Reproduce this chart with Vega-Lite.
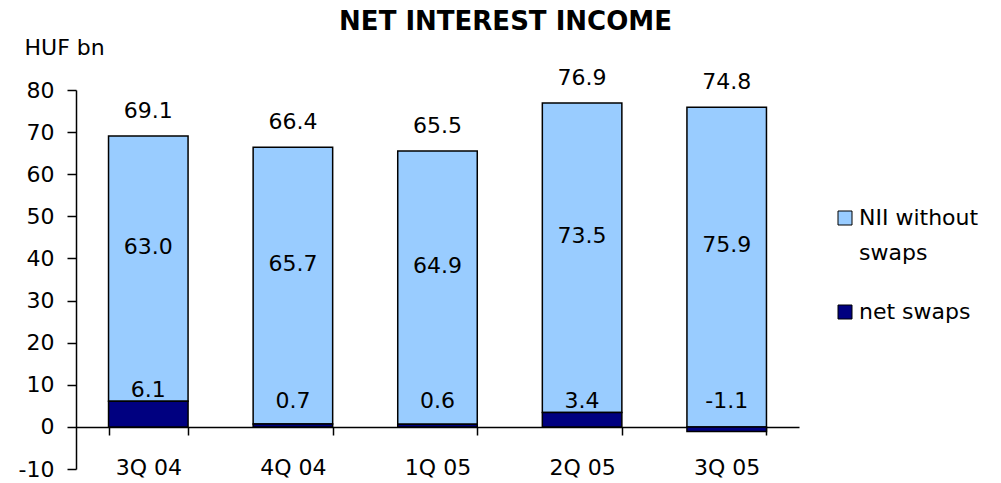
{
  "$schema": "https://vega.github.io/schema/vega-lite/v6.json",
  "width": 723,
  "height": 379,
  "autosize": {"type": "none"},
  "padding": {"left": 76, "top": 90, "right": 202, "bottom": 14},
  "background": "white",
  "title": {
    "text": "NET INTEREST INCOME",
    "font": "DejaVu Sans",
    "fontSize": 26,
    "fontWeight": "bold",
    "color": "black",
    "anchor": "middle",
    "frame": "group",
    "dx": 68,
    "offset": 1
  },
  "config": {
    "view": {"stroke": null},
    "font": "DejaVu Sans",
    "axis": {"labelFont": "DejaVu Sans", "labelFontSize": 22, "labelColor": "black", "titleFont": "DejaVu Sans", "titleFontSize": 22, "titleFontWeight": "normal", "titleColor": "black", "domainColor": "black", "tickColor": "black", "domainWidth": 1.5, "tickWidth": 1.5, "grid": false}
  },
  "data": {
    "values": [
      {"quarter": "3Q 04", "series": "NII without swaps", "value": 63.0},
      {"quarter": "3Q 04", "series": "net swaps", "value": 6.1},
      {"quarter": "4Q 04", "series": "NII without swaps", "value": 65.7},
      {"quarter": "4Q 04", "series": "net swaps", "value": 0.7},
      {"quarter": "1Q 05", "series": "NII without swaps", "value": 64.9},
      {"quarter": "1Q 05", "series": "net swaps", "value": 0.6},
      {"quarter": "2Q 05", "series": "NII without swaps", "value": 73.5},
      {"quarter": "2Q 05", "series": "net swaps", "value": 3.4},
      {"quarter": "3Q 05", "series": "NII without swaps", "value": 75.9},
      {"quarter": "3Q 05", "series": "net swaps", "value": -1.1}
    ]
  },
  "encoding": {
    "x": {
      "field": "quarter",
      "type": "nominal",
      "sort": null,
      "scale": {"paddingInner": 0.45, "paddingOuter": 0.225},
      "axis": {"title": null, "labelAngle": 0, "offset": -42, "tickBand": "extent", "tickSize": 8, "labelPadding": 22, "labelBaseline": "top"}
    }
  },
  "layer": [
    {
      "mark": {"type": "bar", "stroke": "black", "strokeWidth": 1.5},
      "encoding": {
        "y": {
          "field": "value",
          "type": "quantitative",
          "stack": "zero",
          "scale": {"domain": [-10, 80], "nice": false, "zero": false},
          "axis": {"values": [-10, 0, 10, 20, 30, 40, 50, 60, 70, 80], "labelExpr": "datum.value < 0 ? '-' + abs(datum.value) : datum.label", "title": "HUF bn", "titleAngle": 0, "titleX": -52, "titleY": -43, "titleAlign": "left", "titleBaseline": "middle", "tickSize": 9, "labelPadding": 13}
        },
        "color": {
          "field": "series",
          "type": "nominal",
          "scale": {"domain": ["NII without swaps", "net swaps"], "range": ["#99CCFF", "#000080"]},
          "legend": {
            "title": null,
            "orient": "none",
            "legendX": 758,
            "legendY": 117,
            "symbolType": "square",
            "symbolSize": 196,
            "symbolStrokeColor": "black",
            "symbolStrokeWidth": 1,
            "labelFont": "DejaVu Sans",
            "labelFontSize": 22,
            "labelColor": "black",
            "labelOffset": 3,
            "labelLimit": 300,
            "rowPadding": 37,
            "labelExpr": "datum.label == 'NII without swaps' ? ['NII without', 'swaps'] : datum.label",
            "labelBaseline": "top",
            "encode": {"labels": {"update": {"lineHeight": {"value": 35}, "dy": {"value": -10}}}}
          }
        },
        "order": {"field": "series", "sort": "descending"}
      }
    },
    {
      "transform": [
        {"calculate": "max(datum.value, 0)", "as": "pos"},
        {"aggregate": [{"op": "sum", "field": "value", "as": "total"}, {"op": "sum", "field": "pos", "as": "top"}], "groupby": ["quarter"]},
        {"calculate": "(datum.total < 0 ? '-' : '') + format(abs(datum.total), '.1f')", "as": "lab"}
      ],
      "mark": {"type": "text", "fontSize": 22, "font": "DejaVu Sans", "color": "black", "baseline": "alphabetic", "dy": -18},
      "encoding": {
        "y": {"field": "top", "type": "quantitative"},
        "text": {"field": "lab", "type": "nominal"}
      }
    },
    {
      "transform": [
        {"stack": "value", "groupby": ["quarter"], "sort": [{"field": "series", "order": "descending"}], "as": ["v0", "v1"]},
        {"filter": "datum.series == 'NII without swaps'"},
        {"calculate": "(datum.v0 + datum.v1) / 2", "as": "mid"},
        {"calculate": "format(datum.value, '.1f')", "as": "lab"}
      ],
      "mark": {"type": "text", "fontSize": 22, "font": "DejaVu Sans", "color": "black", "baseline": "middle", "dy": -22},
      "encoding": {
        "y": {"field": "mid", "type": "quantitative"},
        "text": {"field": "lab", "type": "nominal"}
      }
    },
    {
      "transform": [
        {"filter": "datum.series == 'net swaps'"},
        {"calculate": "max(datum.value, 3.6)", "as": "labelAt"},
        {"calculate": "(datum.value < 0 ? '-' : '') + format(abs(datum.value), '.1f')", "as": "lab"}
      ],
      "mark": {"type": "text", "fontSize": 22, "font": "DejaVu Sans", "color": "black", "baseline": "alphabetic", "dy": -4},
      "encoding": {
        "y": {"field": "labelAt", "type": "quantitative"},
        "text": {"field": "lab", "type": "nominal"}
      }
    }
  ]
}
